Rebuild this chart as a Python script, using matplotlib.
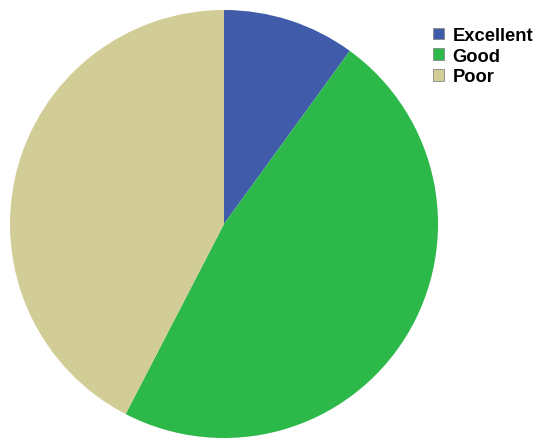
import numpy as np
import matplotlib.pyplot as plt
from matplotlib.patches import Patch

labels = ["Excellent", "Good", "Poor"]
values = [10.0, 47.6, 42.4]
colors = ["#3F5BAA", "#2DB84A", "#D2CC96"]

plt.rcParams["font.family"] = ["Liberation Sans", "DejaVu Sans"]

fig = plt.figure(figsize=(5.37, 4.39), dpi=100)
ax = fig.add_axes([0, 0, 1, 1])

ax.pie(values, colors=colors, startangle=90, counterclock=False,
       radius=1.0, center=(0, 0), wedgeprops=dict(linewidth=0))
ax.set_xlim(-224 / 214, (537 - 224) / 214)
ax.set_ylim(-(439 - 225) / 214, 225 / 214)
ax.set_aspect("auto")
ax.axis("off")

handles = [Patch(facecolor=c, edgecolor="#888888", linewidth=0.6) for c in colors]
leg = fig.legend(handles, labels, loc="upper left", bbox_to_anchor=(433 / 537, 1 - 28 / 439),
                 frameon=False, prop=dict(weight="bold", size=13.2),
                 handlelength=0.6, handleheight=0.6, handletextpad=0.45,
                 labelspacing=0.2, borderaxespad=0, borderpad=0)

fig.savefig("out.png", dpi=100)
